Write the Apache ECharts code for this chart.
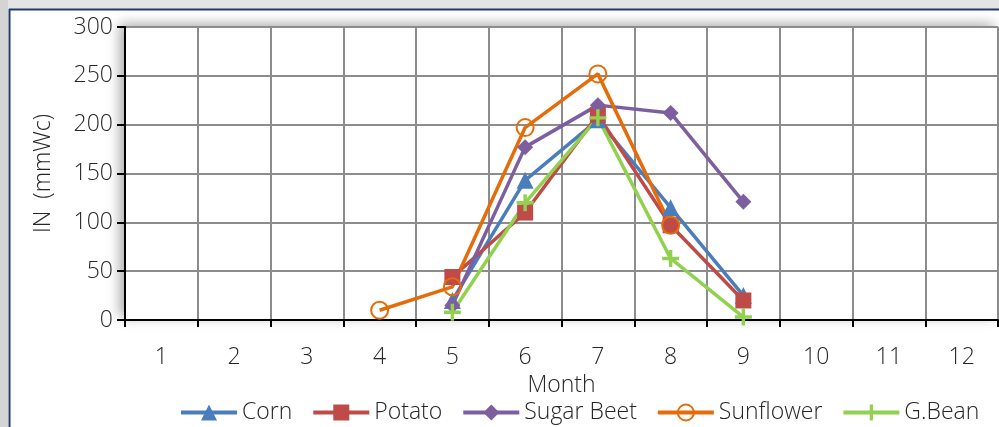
<!DOCTYPE html>
<html>
<head>
<meta charset="utf-8">
<script src="https://cdn.jsdelivr.net/npm/echarts@6/dist/echarts.min.js"></script>
<style>
html, body { margin: 0; padding: 0; background: #fff; }
#main { width: 999px; height: 427px; }
</style>
</head>
<body>
<div id="main"></div>
<script>
// 月份（横轴）
var months = ['1', '2', '3', '4', '5', '6', '7', '8', '9', '10', '11', '12'];
// 各作物数据，'-' 表示无数据
var corn      = ['-', '-', '-', '-', 20, 143, 205, 115, 25, '-', '-', '-'];
var potato    = ['-', '-', '-', '-', 44, 110, 210, 97, 20, '-', '-', '-'];
var sugarBeet = ['-', '-', '-', '-', 15, 177, 220, 212, 121, '-', '-', '-'];
var sunflower = ['-', '-', '-', 10, 34, 197, 252, 97, '-', '-', '-', '-'];
var gBean     = ['-', '-', '-', '-', 8, 120, 207, 63, 3, '-', '-', '-'];

var FONT = 'Open Sans';
var FW = 300;
var FS = 23;
var TXT = '#262626';
var plusPath = 'path://M4,0h2v4h4v2h-4v4h-2v-4h-4v-2h4z';

function lineSeries(name, data, color, symbol, size, hollow) {
	return {
		name: name,
		type: 'line',
		data: data,
		symbol: symbol,
		symbolSize: size,
		connectNulls: false,
		lineStyle: { color: color, width: 3.5 },
		itemStyle: hollow
			? { color: 'rgba(255,255,255,0)', borderColor: color, borderWidth: 2 }
			: { color: color },
		emphasis: { disabled: true }
	};
}

var myChart = echarts.init(document.getElementById('main'));
var option = {
	animation: false,
	backgroundColor: '#ffffff',
	textStyle: { fontFamily: FONT, fontWeight: FW },
	graphic: [
		// 外框（截图的灰边和深蓝线）
		{ type: 'rect', shape: { x: 0, y: 0, width: 999, height: 9 }, style: { fill: '#e4e4e4' }, silent: true },
		{ type: 'rect', shape: { x: 0, y: 0, width: 8, height: 427 }, style: { fill: '#d4d4d4' }, silent: true },
		{ type: 'line', shape: { x1: 9, y1: 9.5, x2: 999, y2: 9.5 }, style: { stroke: '#1f3a6b', lineWidth: 2 }, silent: true },
		{ type: 'line', shape: { x1: 9.5, y1: 9, x2: 9.5, y2: 427 }, style: { stroke: '#1f3a6b', lineWidth: 2 }, silent: true },
		// 绘图区阴影
		{ type: 'rect', z: -1, shape: { x: 125, y: 27, width: 873, height: 293 },
		  style: { fill: '#ffffff', shadowBlur: 12, shadowOffsetX: -5, shadowOffsetY: -3, shadowColor: 'rgba(0,0,0,0.35)' }, silent: true }
	],
	grid: { left: 125, top: 27, right: 1, bottom: 107 },
	legend: {
		left: 174,
		top: 396,
		itemWidth: 56,
		itemHeight: 20,
		itemGap: 19,
		lineStyle: { width: 4 },
		textStyle: { fontFamily: FONT, fontWeight: FW, fontSize: FS, color: TXT },
		data: ['Corn', 'Potato', 'Sugar Beet', 'Sunflower', 'G.Bean']
	},
	xAxis: {
		type: 'category',
		data: months,
		boundaryGap: true,
		name: 'Month',
		nameLocation: 'middle',
		nameGap: 48,
		nameTextStyle: { fontFamily: FONT, fontWeight: FW, fontSize: FS, color: TXT },
		axisLine: { lineStyle: { color: '#000', width: 2 } },
		axisTick: { show: true, length: 7, lineStyle: { color: '#000', width: 2 } },
		axisLabel: { margin: 26, fontFamily: FONT, fontWeight: FW, fontSize: FS, color: TXT },
		splitLine: { show: true, lineStyle: { color: '#8c8c8c', width: 2 } }
	},
	yAxis: {
		type: 'value',
		min: 0,
		max: 300,
		interval: 50,
		name: 'IN  (mmWc)',
		nameLocation: 'middle',
		nameGap: 70,
		nameTextStyle: { fontFamily: FONT, fontWeight: FW, fontSize: FS, color: TXT },
		axisLine: { show: true, lineStyle: { color: '#000', width: 2 } },
		axisTick: { show: true, length: 8, lineStyle: { color: '#000', width: 2 } },
		axisLabel: { margin: 12, fontFamily: FONT, fontWeight: FW, fontSize: FS, color: TXT },
		splitLine: { show: true, lineStyle: { color: '#8c8c8c', width: 2 } }
	},
	series: [
		lineSeries('Corn', corn, '#4a7ebb', 'triangle', 17),
		lineSeries('Potato', potato, '#be4b48', 'rect', 16),
		lineSeries('Sugar Beet', sugarBeet, '#7d5fa0', 'diamond', 16),
		lineSeries('Sunflower', sunflower, '#e46c0a', 'circle', 17, true),
		lineSeries('G.Bean', gBean, '#92d050', plusPath, 17)
	]
};
myChart.setOption(option);
</script>
</body>
</html>
